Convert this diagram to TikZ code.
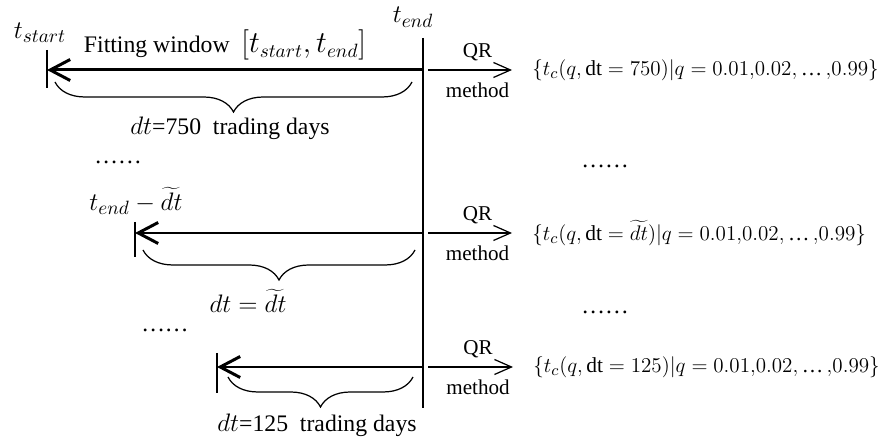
\documentclass[tikz,border=0pt]{standalone}
\usepackage{fontspec}
\setmainfont{Liberation Serif}
\usetikzlibrary{arrows.meta,decorations.pathreplacing,positioning}

\newcommand{\mth}[1]{{\fontsize{15}{17}\selectfont$#1$}}
\newcommand{\dts}{\mbox{\textellipsis}}

\tikzstyle{win} = [line width=1.7pt, -{Straight Barb[length=0.4cm,width=0.42cm]}]
\tikzstyle{bar} = [line width=1.7pt]
\tikzstyle{brc} = [decorate, decoration={brace,mirror,amplitude=0.6cm}, line width=0.7pt]
\tikzstyle{qr} = [line width=0.7pt, -{Straight Barb[length=0.34cm,width=0.3cm]}]
\tikzstyle{lbl} = [inner sep=0, font=\fontsize{13.5}{15}\selectfont]
\tikzstyle{sml} = [inner sep=0, font=\fontsize{12}{14}\selectfont]
\tikzstyle{set} = [inner sep=0, anchor=west, font=\fontsize{12.2}{14}\selectfont]

\begin{document}
\begin{tikzpicture} [x=0.02cm, y=-0.02cm]

\def\colL{black};

\useasboundingbox (0,0) rectangle (894,438);

% the t_end axis
\coordinate (top) at (423,38);
\coordinate (bot) at (423,408);
\draw[bar,\colL] (top) -- (bot);

\node[lbl] (tend) at (413,17) {\mth{t_{end}}};

% window of 750 days
\coordinate (e1) at (423,70);
\coordinate (s1) at (47,70);

\node[lbl] (tstart) at (40,33) {\mth{t_{start}}};

\node[lbl] (fit1) at (225,45)
      {Fitting window\ \ {\fontsize{16}{18}\selectfont$[t_{start},t_{end}]$}};

\draw[win,\colL] (e1) -- (s1);
\draw[bar,\colL] (s1) ++(0,-20) -- ++(0,38);

\draw[brc,\colL]
     ([shift={(8,12)}]s1) -- ([shift={(-11,12)}]e1);

\node[lbl] (dt1) at (230,128) {\mth{dt}=750\ \ trading days};

\node[set] (set1) at (532,70)
      {$\{t_c(q,\mathrm{dt}=750)|q=0.01{,}0.02,\dts\,{,}0.99\}$};

\draw[qr,\colL,shorten <=0.1cm,shorten >=0.4cm]
     (e1)
      -- node[sml,above=0.17cm] (qr1) {QR}
         node[sml,below=0.24cm] (m1) {method}
     (set1.west);

% dots
\node[lbl] (dotL1) at (118,162) {\ldots\ldots};
\node[lbl] (dotR1) at (605,166) {\ldots\ldots};

% window of dt~ days
\coordinate (e2) at (423,233);
\coordinate (s2) at (135,233);

\node[lbl] (tm2) at (136,201) {\mth{t_{end}-\widetilde{dt}}};

\draw[win,\colL] (e2) -- (s2);
\draw[bar,\colL] (s2) ++(0,-11) -- ++(0,35);

\draw[brc,\colL]
     ([shift={(8,17)}]s2) -- ([shift={(-8,17)}]e2);

\node[lbl] (dt2) at (248,301) {\mth{dt=\widetilde{dt}}};

\node[set] (set2) at (532,233)
      {$\{t_c\bigl(q,\mathrm{dt}=\widetilde{dt}\bigr)|q=0.01{,}0.02,\dts\,{,}0.99\}$};

\draw[qr,\colL,shorten <=0.1cm,shorten >=0.4cm]
     (e2)
      -- node[sml,above=0.17cm] (qr2) {QR}
         node[sml,below=0.24cm] (m2) {method}
     (set2.west);

% dots
\node[lbl] (dotL2) at (165,330) {\ldots\ldots};
\node[lbl] (dotR2) at (605,312) {\ldots\ldots};

% window of 125 days
\coordinate (e3) at (423,367);
\coordinate (s3) at (217,367);

\draw[win,\colL] (e3) -- (s3);
\draw[bar,\colL] (s3) ++(0,-14) -- ++(0,40);

\draw[brc,\colL]
     ([shift={(11,10)}]s3) -- ([shift={(-10,10)}]e3);

\node[lbl] (dt3) at (317,425) {\mth{dt}=125\ \ trading days};

\node[set] (set3) at (533,367)
      {$\{t_c(q,\mathrm{dt}=125)|q=0.01{,}0.02,\dts\,{,}0.99\}$};

\draw[qr,\colL,shorten <=0.1cm,shorten >=0.4cm]
     (e3)
      -- node[sml,above=0.17cm] (qr3) {QR}
         node[sml,below=0.24cm] (m3) {method}
     (set3.west);

\end{tikzpicture}
\end{document}
